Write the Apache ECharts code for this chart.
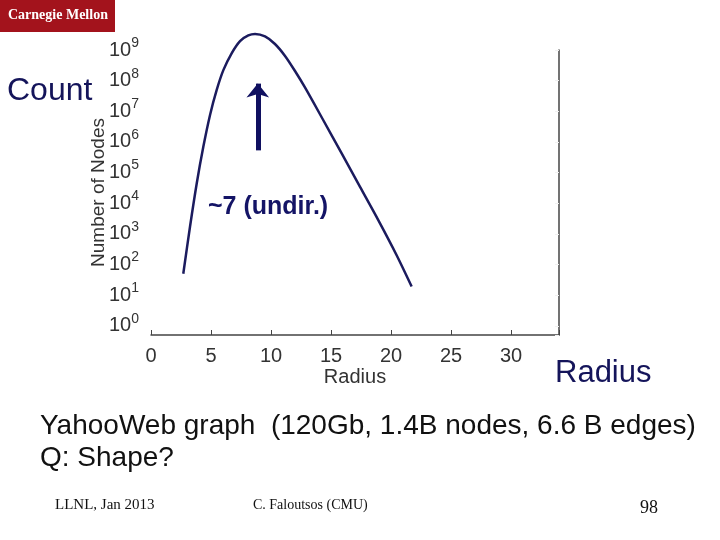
<!DOCTYPE html>
<html>
<head>
<meta charset="utf-8">
<script src="https://cdn.jsdelivr.net/npm/echarts@6/dist/echarts.min.js"></script>
<style>
  html, body { margin: 0; padding: 0; background: #fff; }
  #chart { width: 720px; height: 540px; }
</style>
</head>
<body>
<div id="chart"></div>
<script>
  // radius (hops) vs number of nodes
  var radius = [2.69, 3.25, 3.81, 4.36, 4.92, 5.47, 6.03, 6.72, 7.42, 8.11, 8.67, 9.5, 10.33, 11.17, 12.0, 12.83, 14.36, 15.89, 17.42, 18.94, 20.47, 21.72]
  var nodeCount = [50, 1.7e3, 4.4e4, 6.9e5, 7.6e6, 4.9e7, 2.2e8, 7.8e8, 1.95e9, 2.98e9, 3.33e9, 2.76e9, 1.57e9, 6.4e8, 2.06e8, 6.0e7, 5.1e6, 4.2e5, 3.4e4, 2.8e3, 200, 19]
  var xTicks = [0, 5, 10, 15, 20, 25, 30]
  var yExponents = [0, 1, 2, 3, 4, 5, 6, 7, 8, 9]

  var navy = '#1b1b5e'
  var chart = echarts.init(document.getElementById('chart'))

  chart.setOption({
    animation: false,
    grid: { left: 151, right: 161, top: 50, bottom: 205 },
    xAxis: {
      type: 'value',
      min: 0,
      max: 34,
      interval: 5,
      name: 'Radius',
      nameLocation: 'middle',
      nameGap: 32,
      nameMoveOverlap: false,
      nameTextStyle: { fontFamily: 'Liberation Sans', fontSize: 20, color: '#333' },
      axisLine: { lineStyle: { color: '#444', width: 1.5 } },
      axisTick: { inside: true, length: 5, lineStyle: { color: '#444' } },
      axisLabel: {
        margin: 11,
        fontFamily: 'Liberation Sans',
        fontSize: 20,
        color: '#333',
        formatter: function (v) { return xTicks.indexOf(v) >= 0 ? String(v) : '' }
      },
      splitLine: { show: false }
    },
    yAxis: [{
      type: 'log',
      logBase: 10,
      min: 0.5,
      max: 1e9,
      splitNumber: 9,
      name: 'Number of Nodes',
      nameLocation: 'middle',
      nameGap: 43,
      nameMoveOverlap: false,
      nameTextStyle: { fontFamily: 'Liberation Sans', fontSize: 19, color: '#333' },
      axisLine: { show: false },
      axisTick: { show: false },
      splitLine: { show: false },
      axisLabel: {
        margin: 12,
        color: '#333',
        formatter: function (v) {
          var e = Math.log10(v)
          var n = Math.round(e)
          if (Math.abs(e - n) > 0.01 || yExponents.indexOf(n) < 0) return ''
          return '{b|10}{s|' + n + '}'
        },
        rich: {
          b: { fontFamily: 'Liberation Sans', fontSize: 20, lineHeight: 28, color: '#333' },
          s: { fontFamily: 'Liberation Sans', fontSize: 14, verticalAlign: 'top', color: '#333' }
        }
      }
    }, {
      type: 'log',
      logBase: 10,
      min: 0.5,
      max: 1e9,
      splitNumber: 9,
      position: 'right',
      axisLine: { show: true, lineStyle: { color: '#444', width: 1.5 } },
      axisTick: { inside: true, length: 4, lineStyle: { color: '#f0f0f0' } },
      axisLabel: { show: false },
      splitLine: { show: false }
    }],
    series: [{
      type: 'line',
      data: radius.map(function (r, i) { return [r, nodeCount[i]] }),
      smooth: 0.3,
      clip: false,
      symbol: 'none',
      lineStyle: { color: navy, width: 2.5 },
      markLine: {
        silent: true,
        symbol: ['none', 'arrow'],
        symbolSize: [17, 14],
        label: { show: false },
        lineStyle: { color: '#101060', width: 5, type: 'solid' },
        data: [[{ coord: [8.9, 5.3e5] }, { coord: [8.9, 8e7] }]]
      }
    }],
    graphic: [
      { type: 'rect', left: 0, top: 0, shape: { width: 115, height: 32 }, style: { fill: '#a3131c' } },
      { type: 'text', left: 8, top: 8, style: { text: 'Carnegie Mellon', fill: '#fff', font: 'bold 14px "Liberation Serif"' } },
      { type: 'text', left: 7, top: 75, style: { text: 'Count', fill: '#14145a', font: '32px "Liberation Sans"' } },
      { type: 'text', left: 555, top: 358, style: { text: 'Radius', fill: '#14145a', font: '31px "Liberation Sans"' } },
      { type: 'text', left: 208, top: 195, style: { text: '~7 (undir.)', fill: '#141466', font: 'bold 25px "Liberation Sans"' } },
      { type: 'text', left: 40, top: 412, style: { text: 'YahooWeb graph  (120Gb, 1.4B nodes, 6.6 B edges)', fill: '#111', font: '28px "Liberation Sans"' } },
      { type: 'text', left: 40, top: 444, style: { text: 'Q: Shape?', fill: '#111', font: '28px "Liberation Sans"' } },
      { type: 'text', left: 55, top: 498, style: { text: 'LLNL, Jan 2013', fill: '#111', font: '15px "Liberation Serif"' } },
      { type: 'text', left: 253, top: 498, style: { text: 'C. Faloutsos (CMU)', fill: '#111', font: '14px "Liberation Serif"' } },
      { type: 'text', left: 640, top: 499, style: { text: '98', fill: '#111', font: '18px "Liberation Serif"' } }
    ]
  })
</script>
</body>
</html>
